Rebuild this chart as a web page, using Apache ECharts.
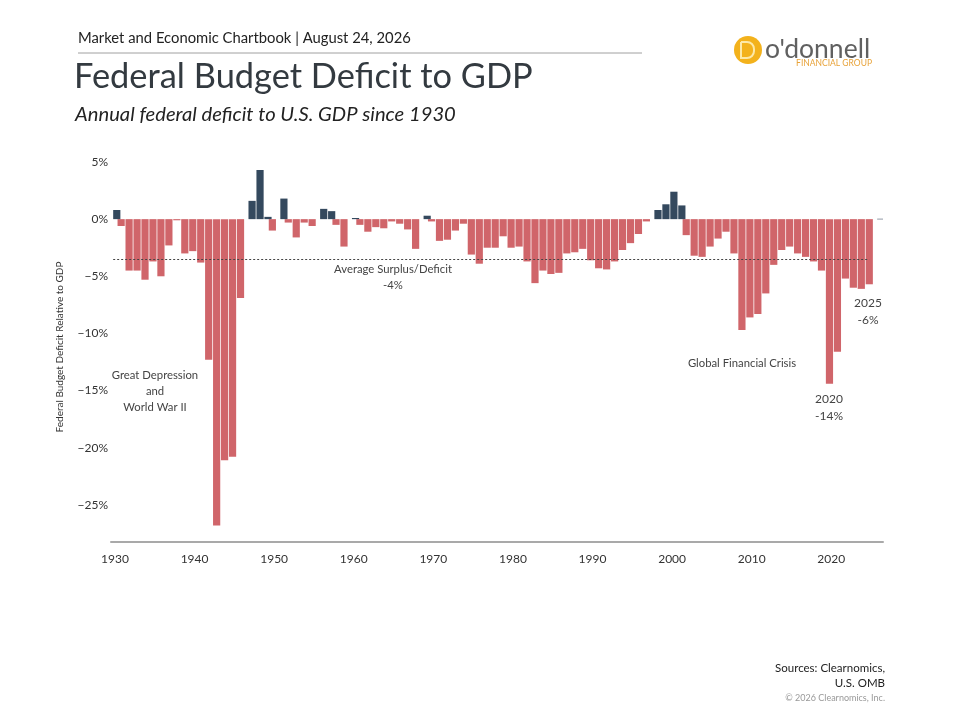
<!DOCTYPE html>
<html>
<head>
<meta charset="utf-8">
<script src="https://cdn.jsdelivr.net/npm/echarts@6/dist/echarts.min.js"></script>
<style>
html,body{margin:0;padding:0;background:#fff;}
#chart{width:960px;height:720px;}
</style>
</head>
<body>
<div id="chart"></div>
<script>
const years = ['1930','1931','1932','1933','1934','1935','1936','1937','1938','1939',
'1940','1941','1942','1943','1944','1945','1946','1947','1948','1949',
'1950','1951','1952','1953','1954','1955','1956','1957','1958','1959',
'1960','1961','1962','1963','1964','1965','1966','1967','1968','1969',
'1970','1971','1972','1973','1974','1975','1976','1977','1978','1979',
'1980','1981','1982','1983','1984','1985','1986','1987','1988','1989',
'1990','1991','1992','1993','1994','1995','1996','1997','1998','1999',
'2000','2001','2002','2003','2004','2005','2006','2007','2008','2009',
'2010','2011','2012','2013','2014','2015','2016','2017','2018','2019',
'2020','2021','2022','2023','2024','2025','2026'];

// Deficit years (negative balance, % of GDP)
const deficit = [null,-0.6,-4.5,-4.5,-5.3,-3.7,-5.0,-2.3,-0.1,-3.0,
-2.8,-3.8,-12.3,-26.8,-21.1,-20.8,-6.9,null,null,null,
-1.0,null,-0.3,-1.6,-0.3,-0.6,null,null,-0.5,-2.4,
null,-0.5,-1.1,-0.7,-0.8,-0.2,-0.4,-0.9,-2.6,null,
-0.2,-1.9,-1.8,-1.0,-0.4,-3.1,-3.9,-2.5,-2.5,-1.5,
-2.5,-2.4,-3.7,-5.6,-4.5,-4.8,-4.7,-3.0,-2.9,-2.6,
-3.6,-4.3,-4.4,-3.7,-2.7,-2.1,-1.3,-0.2,null,null,
null,null,-1.4,-3.2,-3.3,-2.4,-1.7,-1.1,-3.0,-9.7,
-8.6,-8.3,-6.5,-4.0,-2.7,-2.4,-3.0,-3.3,-3.7,-4.5,
-14.4,-11.6,-5.2,-6.0,-6.1,-5.7,null];

// Surplus years (positive balance, % of GDP); 2026 is a zero stub
const surplus = [0.8,null,null,null,null,null,null,null,null,null,
null,null,null,null,null,null,null,1.6,4.3,0.2,
null,1.8,null,null,null,null,0.9,0.7,null,null,
0.1,null,null,null,null,null,null,null,null,0.3,
null,null,null,null,null,null,null,null,null,null,
null,null,null,null,null,null,null,null,null,null,
null,null,null,null,null,null,null,null,0.8,1.3,
2.4,1.2,null,null,null,null,null,null,null,null,
null,null,null,null,null,null,null,null,null,null,
null,null,null,null,null,null,0];

const averageBalance = -3.5;
const avgStart = '1930';
const avgEnd = '2025';

const yMin = -28.25, yMax = 5, yStep = 5;

const RED = '#d0656a';
const NAVY = '#34495e';
const FONT = 'Lato, "Noto Sans", sans-serif';

const surplusData = surplus.map((v, i) => {
  if (years[i] === '2026' && v === 0) {
    return {value: v, itemStyle: {color: '#b4bac2', borderColor: '#b4bac2', borderWidth: 1}};
  }
  return v;
});

const chart = echarts.init(document.getElementById('chart'), null, {renderer: 'canvas'});

const option = {
  backgroundColor: '#ffffff',
  animation: false,
  textStyle: {fontFamily: FONT},
  grid: {left: 111, right: 77, top: 162, bottom: 178, containLabel: false},
  xAxis: {
    type: 'category',
    data: years,
    boundaryGap: true,
    axisLine: {onZero: false, lineStyle: {color: '#a9a9a9', width: 2}},
    axisTick: {show: false},
    axisLabel: {
      interval: (idx, val) => Number(val) % 10 === 0,
      color: '#333', fontSize: 12, margin: 11, fontFamily: FONT
    },
    splitLine: {show: false}
  },
  yAxis: {
    type: 'value',
    min: yMin, max: yMax,
    minInterval: yStep, maxInterval: yStep,
    axisLine: {show: false},
    axisTick: {show: false},
    splitLine: {show: false},
    axisLabel: {
      color: '#333', fontSize: 12, margin: 3, fontFamily: FONT,
      formatter: v => {
        if (Math.abs(v % yStep) > 1e-6) return '';
        return (v < 0 ? '\u2212' + Math.abs(v) : String(v)) + '%';
      }
    }
  },
  series: [
    {
      name: 'Deficit',
      type: 'bar',
      data: deficit,
      barWidth: 7.2,
      barGap: '-50%',
      itemStyle: {color: RED},
      markLine: {
        silent: true,
        symbol: ['none', 'none'],
        label: {show: false},
        lineStyle: {color: '#444', width: 1, type: [2, 2]},
        data: [[{coord: [avgStart, averageBalance]}, {coord: [avgEnd, averageBalance]}]]
      }
    },
    {
      name: 'Surplus',
      type: 'bar',
      data: surplusData,
      barWidth: 7.2,
      barGap: '-50%',
      itemStyle: {color: NAVY}
    }
  ],
  graphic: [
    {type: 'text', left: 78, top: 31, style: {text: 'Market and Economic Chartbook | August 24, 2026', font: '14.8px ' + FONT, fill: '#222'}},
    {type: 'line', shape: {x1: 78, y1: 53, x2: 642, y2: 53}, style: {stroke: '#a0a0a0', lineWidth: 1}},
    {type: 'text', left: 74, top: 60, style: {text: 'Federal Budget Deficit to GDP', font: '34.4px ' + FONT, fill: '#333a40'}},
    {type: 'text', left: 75, top: 104, style: {text: 'Annual federal deficit to U.S. GDP since 1930', font: 'italic 20.2px ' + FONT, fill: '#222'}},
    // logo
    {type: 'circle', shape: {cx: 748, cy: 50, r: 14}, style: {fill: '#f3b21c'}},
    {type: 'rect', shape: {x: 741, y: 42, width: 13, height: 16, r: [0, 7, 7, 0]}, style: {fill: 'none', stroke: '#fde9a8', lineWidth: 2}},
    {type: 'text', x: 765, y: 49, style: {text: "o'donnell", font: '26.5px ' + FONT, fill: '#606060', verticalAlign: 'middle'}},
    {type: 'text', x: 872, y: 63, style: {text: 'FINANCIAL GROUP', font: '8.5px ' + FONT, fill: '#e8a33a', align: 'right', verticalAlign: 'middle'}},
    // y axis title
    {type: 'text', x: 60, y: 347, rotation: Math.PI / 2, style: {text: 'Federal Budget Deficit Relative to GDP', font: '10px ' + FONT, fill: '#333', align: 'center', verticalAlign: 'middle'}},
    // annotations
    {type: 'text', x: 155, y: 391, style: {text: 'Great Depression\nand\nWorld War II', font: '11.3px ' + FONT, fill: '#444', align: 'center', verticalAlign: 'middle', lineHeight: 16}},
    {type: 'text', x: 393, y: 277, style: {text: 'Average Surplus/Deficit\n-4%', font: '11.3px ' + FONT, fill: '#444', align: 'center', verticalAlign: 'middle', lineHeight: 16}},
    {type: 'text', x: 742, y: 363, style: {text: 'Global Financial Crisis', font: '11.3px ' + FONT, fill: '#444', align: 'center', verticalAlign: 'middle'}},
    {type: 'text', x: 829, y: 408, style: {text: '2020\n-14%', font: '12px ' + FONT, fill: '#444', align: 'center', verticalAlign: 'middle', lineHeight: 17}},
    {type: 'text', x: 868, y: 312, style: {text: '2025\n-6%', font: '12px ' + FONT, fill: '#444', align: 'center', verticalAlign: 'middle', lineHeight: 17}},
    // footer
    {type: 'text', x: 885, y: 668, style: {text: 'Sources: Clearnomics,', font: '11.5px ' + FONT, fill: '#222', align: 'right', verticalAlign: 'middle'}},
    {type: 'text', x: 885, y: 683, style: {text: 'U.S. OMB', font: '11.5px ' + FONT, fill: '#222', align: 'right', verticalAlign: 'middle'}},
    {type: 'text', x: 885, y: 698, style: {text: '\u00A9 2026 Clearnomics, Inc.', font: '9px ' + FONT, fill: '#999', align: 'right', verticalAlign: 'middle'}}
  ]
};

chart.setOption(option);
</script>
</body>
</html>
